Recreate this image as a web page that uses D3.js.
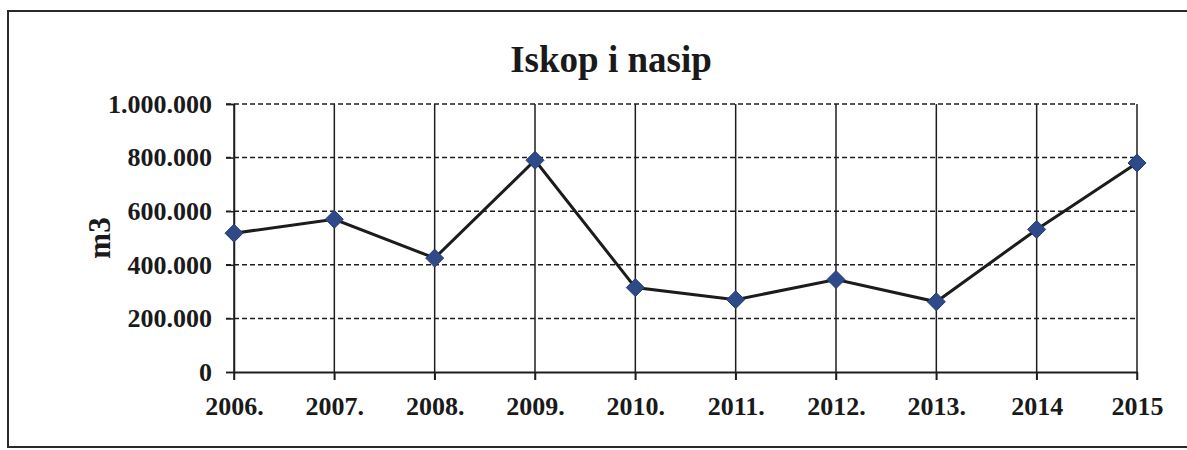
<!DOCTYPE html>
<html>
<head>
<meta charset="utf-8">
<script src="https://cdn.jsdelivr.net/npm/d3@7"></script>
<style>
	body { margin: 0; background: #fff; }
	svg text { font-family: "Liberation Serif", "Times New Roman", serif; font-weight: bold; fill: #1a1a1a; }
</style>
</head>
<body>
<script>
/* Data */
var years = ["2006.", "2007.", "2008.", "2009.", "2010.", "2011.", "2012.", "2013.", "2014", "2015"];
var volumes = [518000, 570000, 425000, 790000, 315000, 270000, 345000, 262000, 532000, 780000];
var yTicks = [0, 200000, 400000, 600000, 800000, 1000000];
var title = "Iskop i nasip",
	yTitle = "m3";

/* Display setup */
var width = 1187, height = 450,
	plot = {left: 234, right: 1137, top: 104, bottom: 372},
	svg = d3.select("body").append("svg")
		.attr("width", width)
		.attr("height", height);

var x = d3.scalePoint().domain(years).range([plot.left, plot.right]).padding(0),
	y = d3.scaleLinear().domain([0, 1000000]).range([plot.bottom, plot.top]);

var fmt = function(v) { return v === 0 ? "0" : d3.format(",")(v).replace(/,/g, "."); };

// outer frame
svg.append("rect")
	.attr("x", 8).attr("y", 11)
	.attr("width", width + 20).attr("height", 436)
	.style("fill", "none")
	.style("stroke", "#2a2a2a")
	.style("stroke-width", 2);

// title
svg.append("text")
	.attr("x", 611).attr("y", 72)
	.attr("text-anchor", "middle")
	.style("font-size", "37px")
	.text(title);

// y title
svg.append("text")
	.attr("transform", "translate(110," + ((plot.top + plot.bottom) / 2) + ") rotate(-90)")
	.attr("text-anchor", "middle")
	.style("font-size", "31px")
	.text(yTitle);

// horizontal dashed gridlines
svg.append("g")
	.selectAll("line")
	.data(yTicks.filter(function(d) { return d > 0; }))
	.enter().append("line")
		.attr("x1", plot.left - 8).attr("x2", plot.right)
		.attr("y1", function(d) { return y(d); })
		.attr("y2", function(d) { return y(d); })
		.style("stroke", "#1e1e1e")
		.style("stroke-width", 1.5)
		.style("stroke-dasharray", "5,3");

// vertical solid gridlines
svg.append("g")
	.selectAll("line")
	.data(years)
	.enter().append("line")
		.attr("x1", function(d) { return x(d); })
		.attr("x2", function(d) { return x(d); })
		.attr("y1", plot.top)
		.attr("y2", plot.bottom + 8)
		.style("stroke", "#1e1e1e")
		.style("stroke-width", 1.5);

// y axis
var yAxis = svg.append("g")
	.attr("transform", "translate(" + plot.left + ",0)")
	.call(d3.axisLeft(y).tickValues(yTicks).tickFormat(fmt).tickSizeOuter(0).tickSize(8).tickPadding(14));
yAxis.select(".domain").style("stroke", "#1e1e1e").style("stroke-width", 1.5);
yAxis.selectAll(".tick line").style("stroke", "#1e1e1e").style("stroke-width", 1.5);
yAxis.selectAll("text").style("font-size", "26px").attr("font-family", null).style("fill", "#1a1a1a");

// x axis
var xAxis = svg.append("g")
	.attr("transform", "translate(0," + plot.bottom + ")")
	.call(d3.axisBottom(x).tickSize(8).tickSizeOuter(0).tickPadding(17));
xAxis.select(".domain").style("stroke", "#1e1e1e").style("stroke-width", 2);
xAxis.selectAll(".tick line").style("stroke", "#1e1e1e").style("stroke-width", 1.5);
xAxis.selectAll("text").style("font-size", "26px").attr("font-family", null).style("fill", "#1a1a1a");

// series line
var line = d3.line()
	.x(function(d, i) { return x(years[i]); })
	.y(function(d) { return y(d); });

svg.append("path")
	.datum(volumes)
	.attr("d", line)
	.style("fill", "none")
	.style("stroke", "#1c1c1c")
	.style("stroke-width", 3);

// diamond markers
svg.append("g")
	.selectAll("path")
	.data(volumes)
	.enter().append("path")
		.attr("transform", function(d, i) { return "translate(" + x(years[i]) + "," + y(d) + ")"; })
		.attr("d", "M0,-9L9,0L0,9L-9,0Z")
		.style("fill", "#2f4a88")
		.style("stroke", "#263d70")
		.style("stroke-width", 1);
</script>
</body>
</html>
